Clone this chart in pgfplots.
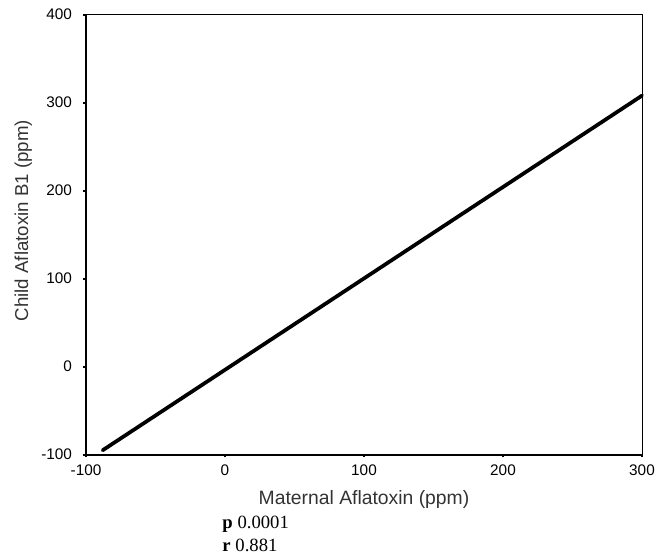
\documentclass[border=0pt]{standalone}
\usepackage{pgfplots}
\pgfplotsset{compat=1.18}
\usepackage{fontspec}
\setmainfont{Liberation Sans}
\newfontfamily\timesfont{Liberation Serif}

\begin{document}
\begin{tikzpicture}
\begin{axis}[
  scale only axis,
  width=417pt, height=330pt,
  xmin=-100, xmax=300,
  ymin=-100, ymax=400,
  xtick={-100,0,100,200,300},
  ytick={-100,0,100,200,300,400},
  xtick pos=left, ytick pos=left,
  tick align=outside,
  major tick length=2pt,
  tick style={line width=1.6pt, black},
  axis line style={line width=0.7pt},
  ticklabel style={font=\fontsize{11.5}{13}\selectfont},
  xticklabel style={yshift=-2pt},
  yticklabel style={xshift=-5pt},
  /pgf/number format/assume math mode=true,
  xlabel={Maternal Aflatoxin (ppm)},
  ylabel={Child Aflatoxin B1 (ppm)},
  label style={color=black!80},
  xlabel style={font=\fontsize{14.5}{17}\selectfont, yshift=-4pt},
  ylabel style={font=\fontsize{14}{17}\selectfont, at={(ticklabel cs:0.532)}, yshift=0pt},
  clip=false,
]
\draw[line width=1.6pt] (rel axis cs:0,1) -- (rel axis cs:0,0) -- (rel axis cs:1,0);
\addplot[black, line width=2.8pt, line cap=round] coordinates {(-88,-95) (300,308)};
\node[anchor=west, font=\timesfont\fontsize{14}{16}\selectfont, inner sep=0pt] at ([yshift=-52pt]rel axis cs:0.245,0) {\textbf{p} 0.0001};
\node[anchor=west, font=\timesfont\fontsize{14}{16}\selectfont, inner sep=0pt] at ([yshift=-68pt]rel axis cs:0.245,0) {\textbf{r} 0.881};
\end{axis}
\path ([shift={(-64.5pt,-75pt)}]current axis.south west) rectangle ([shift={(18pt,11pt)}]current axis.north east);
\end{tikzpicture}
\end{document}
